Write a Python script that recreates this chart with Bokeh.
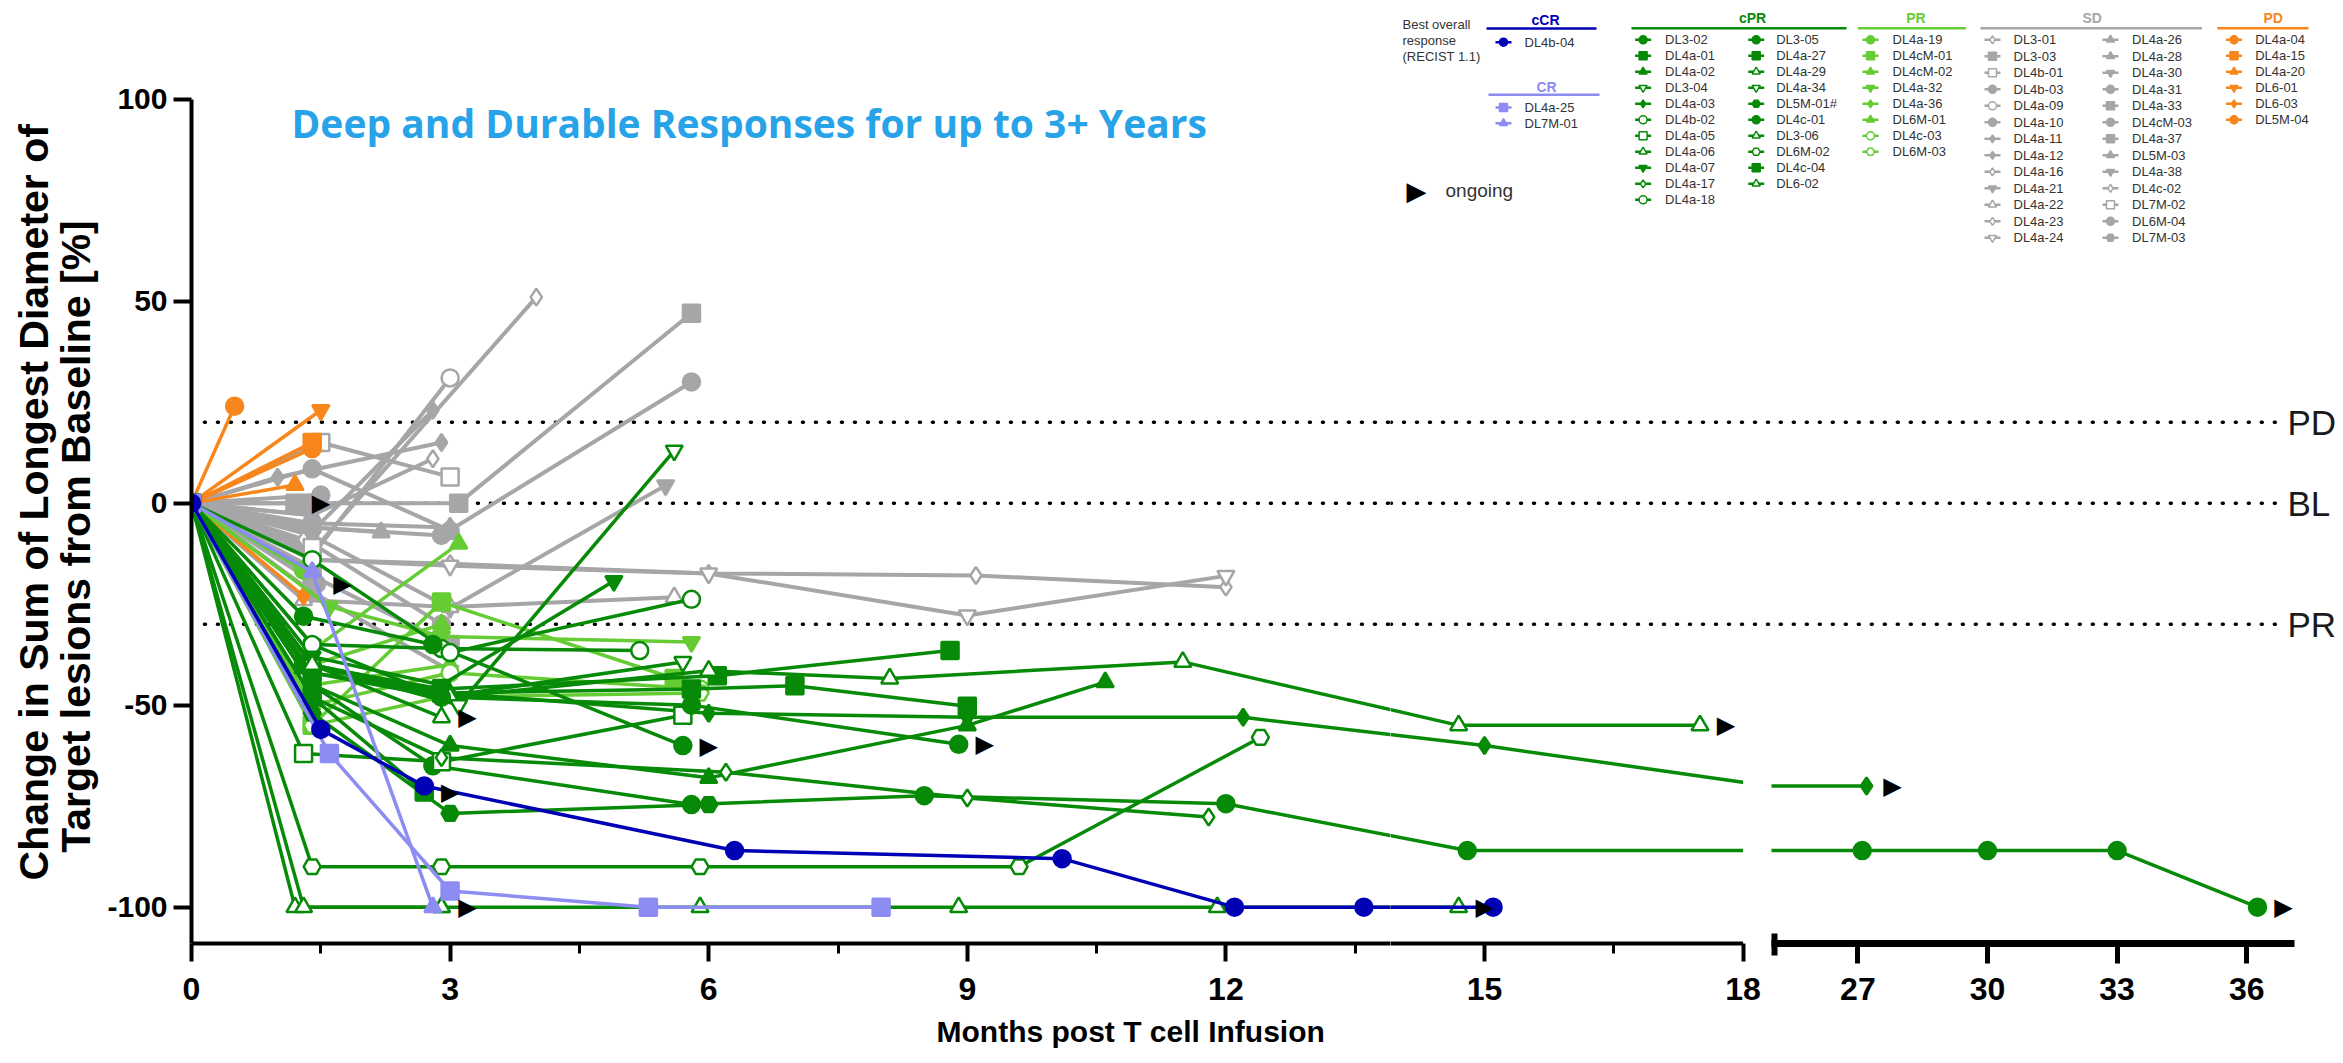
import numpy as np
from bokeh.plotting import figure
from bokeh.models import Range1d, FixedTicker, ColumnDataSource, Label, Title, Span, BoxAnnotation
from bokeh.layouts import row, column
from bokeh.embed import file_html
from bokeh.resources import INLINE
from bokeh.core.properties import value

# ---------------- categories / ticks ----------------
THRESH_VALUES = [20, 0, -30]
THRESH_LABELS = ["PD", "BL", "PR"]
X_TICKS_A = [0, 3, 6, 9, 12]
X_TICKS_B = [15, 18]
X_MINOR_A = [1.5, 4.5, 7.5, 10.5, 13.5]
X_MINOR_B = [16.5]
X_TICKS_LATE = [27, 30, 33, 36]
Y_TICKS = [-100, -50, 0, 50, 100]

# ---------------- data (months, % change) ----------------
CCR_NAMES = ["DL4b-04"]
CCR_MONTHS = [[0, 1.5, 2.7, 6.3, 10.1, 12.1, 13.6, 15.1]]
CCR_VALUES = [[0, -56, -70, -86, -88, -100, -100, -100]]
CCR_ONGOING = [False]

CR_NAMES = ["DL4a-25", "DL7M-01"]
CR_MONTHS = [[0, 1.6, 3.0, 5.3, 8.0], [0, 1.4, 2.8]]
CR_VALUES = [[0, -62, -96, -100, -100], [0, -17, -100]]
CR_ONGOING = [False, False]

CPR_NAMES = ["DL3-02", "DL4a-01", "DL4a-02", "DL3-04", "DL4a-03", "DL4b-02", "DL4a-05",
             "DL4a-06", "DL4a-07", "DL4a-17", "DL4a-18", "DL3-05", "DL4a-27", "DL4a-29",
             "DL4a-34", "DL5M-01#", "DL4c-01", "DL3-06", "DL6M-02", "DL4c-04", "DL6-02"]
CPR_MONTHS = [
    [0, 1.4, 2.8, 5.8, 8.5, 12.0, 14.8, 27.1, 30.0, 33.0, 36.25],
    [0, 1.4, 2.9, 5.8, 7.0, 9.0],
    [0, 1.4, 3.0, 6.0, 9.0, 10.6],
    [0, 1.4, 2.9, 5.7],
    [0, 1.4, 3.0, 6.0, 9.0, 12.2, 15.0, 18.3, 27.2],
    [0, 1.4, 2.9, 5.2],
    [0, 1.3, 2.9, 5.7],
    [0, 1.2, 2.9],
    [0, 1.4, 2.9, 4.9],
    [0, 1.4, 2.9, 6.2, 9.0, 11.8],
    [0, 1.4, 3.0, 5.8],
    [0, 1.3, 2.8, 5.7],
    [0, 1.3, 2.9, 6.1, 8.8],
    [0, 1.4, 3.0, 6.0, 8.1, 11.5, 14.7, 17.5],
    [0, 1.4, 3.1, 5.6],
    [0, 1.4, 3.0, 6.0],
    [0, 1.4, 2.9, 5.8, 8.9],
    [0, 1.4, 2.9],
    [0, 1.4, 2.9, 5.9, 9.6, 12.4],
    [0, 1.4, 2.7],
    [0, 1.3, 2.9, 5.9, 8.9, 11.9, 14.7],
]
CPR_VALUES = [
    [0, -45, -65, -74.6, -72.4, -74.4, -86, -86, -86, -86, -100],
    [0, -42, -47, -46, -45.2, -50.3],
    [0, -45, -60, -68, -55, -44.3],
    [0, -35, -48, -39.3],
    [0, -40, -47, -52, -53, -53, -60, -70, -70],
    [0, -35, -36, -36.5],
    [0, -62, -64, -52.5],
    [0, -100, -100],
    [0, -38, -45, -19.3],
    [0, -48, -63, -66.6, -73, -77.7],
    [0, -14, -37, -23.8],
    [0, -28, -35, -60],
    [0, -40, -46, -42.7, -36.5],
    [0, -40, -48, -41.5, -43.4, -39.3, -55, -55],
    [0, -40, -50, 13],
    [0, -52, -76.8, -74.6],
    [0, -42, -48, -50, -59.7],
    [0, -40, -53],
    [0, -90, -90, -90, -90, -58],
    [0, -48, -71.5],
    [0, -100, -100, -100, -100, -100, -100],
]
CPR_ONGOING = [True, False, False, False, True, False, False, True, False, False, False,
               True, False, True, False, False, True, True, False, True, True]

PR_NAMES = ["DL4a-19", "DL4cM-01", "DL4cM-02", "DL4a-32", "DL4a-36", "DL6M-01", "DL4c-03", "DL6M-03"]
PR_MONTHS = [[0, 1.3], [0, 1.4, 2.9, 5.6], [0, 1.4, 2.9], [0, 1.6, 2.9, 5.8],
             [0, 1.4, 3.0], [0, 1.3, 3.1], [0, 1.4, 3.0, 5.9], [0, 1.4, 2.9, 5.9]]
PR_VALUES = [[0, -16.6], [0, -55, -24.5, -43.4], [0, -40, -30], [0, -25.6, -33, -34.4],
             [0, -45, -40], [0, -38, -10], [0, -50, -42, -46], [0, -55, -48, -47]]
PR_ONGOING = [False] * 8

SD_NAMES = ["DL3-01", "DL3-03", "DL4b-01", "DL4b-03", "DL4a-09", "DL4a-10", "DL4a-11",
            "DL4a-12", "DL4a-16", "DL4a-21", "DL4a-22", "DL4a-23", "DL4a-24", "DL4a-26",
            "DL4a-28", "DL4a-30", "DL4a-31", "DL4a-33", "DL4cM-03", "DL4a-37", "DL5M-03",
            "DL4a-38", "DL4c-02", "DL7M-02", "DL6M-04", "DL7M-03"]
SD_MONTHS = [
    [0, 1.4, 4.0], [0, 1.4, 3.1, 5.8], [0, 1.5, 3.0], [0, 1.4, 2.9, 5.8], [0, 1.4, 3.0],
    [0, 1.4, 3.0], [0, 1.4, 2.8], [0, 1.0, 2.9], [0, 1.4, 2.8], [0, 1.4, 3.0, 5.5],
    [0, 1.3, 3.0, 5.6], [0, 1.4, 3.0, 6.0, 9.1, 12.0], [0, 1.4, 3.0, 6.0, 9.0, 12.0],
    [0, 1.4, 2.2], [0, 1.4, 3.0], [0, 1.4, 3.0], [0, 1.4, 2.9], [0, 1.4, 3.0],
    [0, 1.45], [0, 1.2], [0, 1.4], [0, 1.4], [0, 1.3], [0, 1.4], [0, 1.5], [0, 1.4],
]
SD_VALUES = [
    [0, -12, 51], [0, 0, 0, 47], [0, 15, 6.5], [0, -6, -8, 30], [0, -13, 31],
    [0, 8.5, -6.8], [0, -7, 23], [0, 6.4, 15], [0, -3, 11], [0, -8, -26, 4.4],
    [0, -24, -25.7, -23.3], [0, -14, -15, -17.4, -17.9, -20.8], [0, -14, -15.5, -17.4, -27.8, -18],
    [0, -6, -7.2], [0, -5, -6], [0, -22, -41.5], [0, -10, -30], [0, -18, -35],
    [0, -20], [0, 0], [0, -3], [0, -6], [0, -9], [0, -11], [0, 2], [0, -16],
]
SD_ONGOING = [False] * 18 + [True, True] + [False] * 6

PD_NAMES = ["DL4a-04", "DL4a-15", "DL4a-20", "DL6-01", "DL6-03", "DL5M-04"]
PD_MONTHS = [[0, 0.5], [0, 1.4], [0, 1.2], [0, 1.5], [0, 1.3], [0, 1.4]]
PD_VALUES = [[0, 24], [0, 15], [0, 4.5], [0, 23], [0, -23], [0, 13.5]]
PD_ONGOING = [False] * 6

# ---------------- styles ----------------
CCR_MARKERS, CCR_OPEN = ["circle"], [False]
CR_MARKERS, CR_OPEN = ["square", "triangle"], [False, False]
CPR_MARKERS = ["circle", "square", "triangle", "inverted_triangle", "diamond", "circle", "square",
               "triangle", "inverted_triangle", "diamond", "circle", "circle", "square", "triangle",
               "inverted_triangle", "hex", "circle", "triangle", "hex", "square", "triangle"]
CPR_OPEN = [False, False, False, True, False, True, True, True, False, True, True, False,
            False, True, True, False, False, True, True, False, True]
PR_MARKERS = ["circle", "square", "triangle", "inverted_triangle", "diamond", "triangle", "circle", "hex"]
PR_OPEN = [False, False, False, False, False, False, True, True]
SD_MARKERS = ["diamond", "square", "square", "circle", "circle", "circle", "diamond", "diamond",
              "diamond", "inverted_triangle", "triangle", "diamond", "inverted_triangle", "triangle",
              "triangle", "inverted_triangle", "circle", "square", "circle", "square", "triangle",
              "inverted_triangle", "diamond", "square", "circle", "hex"]
SD_OPEN = [True, False, True, False, True, False, False, False, True, False, True, True, True,
           False, False, False, False, False, False, False, False, False, True, True, False, False]
PD_MARKERS = ["circle", "square", "triangle", "inverted_triangle", "diamond", "circle"]
PD_OPEN = [False] * 6

COL = {"cCR": "#0000B4", "CR": "#8C8CF2", "cPR": "#078A07", "PR": "#66CC33",
       "SD": "#A6A6A8", "PD": "#F7861C"}

GROUPS = {
    "SD": (SD_NAMES, SD_MONTHS, SD_VALUES, SD_ONGOING, SD_MARKERS, SD_OPEN),
    "PD": (PD_NAMES, PD_MONTHS, PD_VALUES, PD_ONGOING, PD_MARKERS, PD_OPEN),
    "PR": (PR_NAMES, PR_MONTHS, PR_VALUES, PR_ONGOING, PR_MARKERS, PR_OPEN),
    "cPR": (CPR_NAMES, CPR_MONTHS, CPR_VALUES, CPR_ONGOING, CPR_MARKERS, CPR_OPEN),
    "CR": (CR_NAMES, CR_MONTHS, CR_VALUES, CR_ONGOING, CR_MARKERS, CR_OPEN),
    "cCR": (CCR_NAMES, CCR_MONTHS, CCR_VALUES, CCR_ONGOING, CCR_MARKERS, CCR_OPEN),
}
DRAW_ORDER = ["SD", "PD", "PR", "cPR", "CR", "cCR"]

# ---------------- layout geometry (page px) ----------------
X0 = 191.0        # month 0
PXM = 86.2        # px per month, early segment
XR0 = 1771.0      # month 25
LATE_START = 25.0
PXM_R = 43.2
PXU = 4.04
Y_AXIS_PX = 943.0
Y_MIN = -109.0
BOTTOM = 118
TITLE_W = 103
SPLIT_X = 1390
BREAK_X = 1771
RIGHT_X = 2340
LEG_H = 385
FONT = "Liberation Sans"


def m_early(sx):
    return (sx - X0) / PXM


def m_late(sx):
    return LATE_START + (sx - XR0) / PXM_R


def v_of(sy):
    return Y_MIN + (Y_AXIS_PX - sy) / PXU


def base_fig(xr, yr, fw, fh, left=0, yaxis=False):
    p = figure(title=None, x_range=xr, y_range=yr, frame_width=fw, frame_height=fh,
               output_backend="svg", toolbar_location=None,
               x_axis_location="below", y_axis_location="left" if yaxis else None,
               min_border_left=left, min_border_right=0, min_border_top=0,
               min_border_bottom=BOTTOM)
    p.grid.visible = False
    p.outline_line_color = None
    p.background_fill_color = "white"
    p.border_fill_color = "white"
    return p


def style_xaxis(ax, ticks, minor, lw, tw, tout, standoff):
    ax.ticker = FixedTicker(ticks=ticks, minor_ticks=minor)
    ax.axis_line_width = lw
    ax.axis_line_color = "black"
    ax.major_tick_line_width = tw
    ax.major_tick_line_color = "black"
    ax.major_tick_out = tout
    ax.major_tick_in = 0
    ax.minor_tick_line_width = 3
    ax.minor_tick_line_color = "black"
    ax.minor_tick_out = 10
    ax.minor_tick_in = 0
    ax.major_label_text_font = FONT
    ax.major_label_text_font_style = "bold"
    ax.major_label_text_font_size = "32px"
    ax.major_label_text_color = "black"
    ax.major_label_standoff = standoff


def draw_thresholds(p, x0, x1):
    n = len(THRESH_VALUES)
    p.segment(x0=[x0] * n, x1=[x1] * n, y0=THRESH_VALUES, y1=THRESH_VALUES,
              line_color="black", line_width=3.5, line_dash="1 12", line_cap="round")


def draw_data(p, xmin, xmax):
    for g in DRAW_ORDER:
        names, months, values, ongoing, markers, opens = GROUPS[g]
        c = COL[g]
        lw = 4 if g == "SD" else 3.5
        p.multi_line(xs=months, ys=values, line_color=c, line_width=lw)
        xs, ys, mk, fc = [], [], [], []
        for t, v, m, o in zip(months, values, markers, opens):
            xs += list(t)
            ys += list(v)
            mk += [m] * len(t)
            fc += ["white" if o else c] * len(t)
        src = ColumnDataSource(dict(x=xs, y=ys, mk=mk, fc=fc))
        p.scatter(x="x", y="y", marker="mk", fill_color="fc", line_color=c,
                  size=17, line_width=2.5, source=src)
    ax, ay = [], []
    for g in DRAW_ORDER:
        names, months, values, ongoing, markers, opens = GROUPS[g]
        for t, v, o in zip(months, values, ongoing):
            if o and xmin <= t[-1] <= xmax:
                ax.append(t[-1])
                ay.append(v[-1])
    if ax:
        p.text(x=ax, y=ay, text=["\u25B6"] * len(ax), x_offset=26, text_align="center",
               text_baseline="middle", text_font=value("DejaVu Sans"), text_font_size="24px",
               text_color="black")


y_left = Range1d(Y_MIN, v_of(0))
y_right = Range1d(Y_MIN, v_of(LEG_H))

# ---------------- y axis title panel ----------------
pT = figure(title=None, x_range=Range1d(0, TITLE_W), y_range=Range1d(Y_AXIS_PX + BOTTOM, 0),
            width=TITLE_W, height=int(Y_AXIS_PX + BOTTOM), output_backend="svg",
            toolbar_location=None, x_axis_location=None, y_axis_location=None, min_border=0)
pT.grid.visible = False
pT.outline_line_color = None
pT.text(x=[33, 75], y=[990, 959],
        text=["Change in Sum of Longest Diameter of", "Target lesions from Baseline [%]"],
        angle=np.pi / 2, text_align="left", text_baseline="middle", text_font=value(FONT),
        text_font_style="bold", text_font_size="41px", text_color="black")

# ---------------- left (0 .. ~13.9 months) ----------------
pL = base_fig(Range1d(0, m_early(SPLIT_X)), y_left, int(SPLIT_X - X0), int(Y_AXIS_PX),
              left=int(X0 - TITLE_W), yaxis=True)
draw_thresholds(pL, 0.15, m_early(SPLIT_X + 10))
draw_data(pL, 0, m_early(SPLIT_X))
style_xaxis(pL.xaxis[0], X_TICKS_A, X_MINOR_A, 4, 4, 18, 16)
ya = pL.yaxis[0]
ya.bounds = (Y_MIN, 100)
ya.ticker = FixedTicker(ticks=Y_TICKS)
ya.major_label_overrides = {t: str(t) for t in Y_TICKS}
ya.axis_line_width = 4
ya.axis_line_color = "black"
ya.major_tick_line_width = 4
ya.major_tick_line_color = "black"
ya.major_tick_out = 18
ya.major_tick_in = 0
ya.minor_tick_line_color = None
ya.major_label_text_font = FONT
ya.major_label_text_font_style = "bold"
ya.major_label_text_font_size = "30px"
ya.major_label_text_color = "black"
ya.major_label_standoff = 6

pL.add_layout(Label(x=m_early(291), y=v_of(122), text="Deep and Durable Responses for up to 3+ Years",
                    text_font="Open Sans", text_font_style="bold", text_font_size="39px",
                    text_color="#29A3E8", text_align="left", text_baseline="middle"))
pL.add_layout(Title(text="Months post T cell Infusion", align="left", offset=745, standoff=20,
                    text_font=FONT, text_font_style="bold", text_font_size="30px",
                    text_color="black"), "below")

# ---------------- mid (~13.9 .. 18 months, plus the break) ----------------
pM = base_fig(Range1d(m_early(SPLIT_X), m_early(BREAK_X)), y_right, BREAK_X - SPLIT_X,
              int(Y_AXIS_PX - LEG_H))
draw_data(pM, m_early(SPLIT_X), 18)
pM.add_layout(BoxAnnotation(left=18, fill_color="white", fill_alpha=1.0, line_alpha=0))
for v in THRESH_VALUES:
    pM.add_layout(Span(location=v, dimension="width", line_color="black", line_width=3.5,
                       line_dash="1 12", line_cap="round"))
style_xaxis(pM.xaxis[0], X_TICKS_B, X_MINOR_B, 4, 4, 18, 16)
pM.xaxis[0].bounds = (10, 18)

# ---------------- right (25 .. 37 months) ----------------
pR = base_fig(Range1d(LATE_START, m_late(RIGHT_X)), y_right, RIGHT_X - BREAK_X,
              int(Y_AXIS_PX - LEG_H))
draw_thresholds(pR, 24, m_late(2282))
draw_data(pR, LATE_START, m_late(RIGHT_X))
style_xaxis(pR.xaxis[0], X_TICKS_LATE, [m_late(BREAK_X + 3)], 7, 5, 20, 14)
pR.xaxis[0].minor_tick_in = 10
pR.xaxis[0].minor_tick_out = 12
pR.xaxis[0].minor_tick_line_width = 6
pR.xaxis[0].bounds = (LATE_START, m_late(2294))
pR.text(x=[m_late(2287)] * 3, y=THRESH_VALUES, text=THRESH_LABELS, text_align="left",
        text_baseline="middle", text_font=value(FONT), text_font_size="35px", text_color="#1a1a1a")

# ---------------- legend panel ----------------
LX0, LY0 = SPLIT_X, 0
pLeg = figure(title=None, x_range=Range1d(0, RIGHT_X - SPLIT_X), y_range=Range1d(LEG_H, 0),
              frame_width=RIGHT_X - SPLIT_X, frame_height=LEG_H, output_backend="svg",
              toolbar_location=None, x_axis_location=None, y_axis_location=None, min_border=0)
pLeg.grid.visible = False
pLeg.outline_line_color = None

LEG_SPEC = [
    ("cCR", 1545, 19, 1486, 1596, 28, [(1503, 1524, 0, 1)], 41.7, 16),
    ("CR", 1546, 86, 1488, 1599, 94.3, [(1503, 1524, 0, 2)], 107, 15.7),
    ("cPR", 1752, 17, 1631, 1846, 27.7, [(1642.6, 1664.6, 0, 11), (1755.7, 1775.7, 11, 21)], 39.3, 16),
    ("PR", 1915.4, 17, 1857.5, 1965.3, 27.7, [(1870, 1892, 0, 8)], 39.3, 16),
    ("SD", 2091.7, 17, 1980, 2201.5, 27.7, [(1992, 2013, 0, 13), (2110, 2131.6, 13, 26)], 39.3, 16.5),
    ("PD", 2272.7, 17, 2216.8, 2308, 27.7, [(2233.5, 2254.7, 0, 6)], 39.3, 16),
]
hx, hy, ht, hc = [], [], [], []
sx0, sx1, sy, sc = [], [], [], []
tx, ty, tt = [], [], []
mx, my, mm, mf, mc = [], [], [], [], []
for g, hcx, hcy, l0, l1, lyy, cols, r0, step in LEG_SPEC:
    names, months, values, ongoing, markers, opens = GROUPS[g]
    c = COL[g]
    hx.append(hcx - LX0); hy.append(hcy - LY0); ht.append(g); hc.append(c)
    sx0.append(l0 - LX0); sx1.append(l1 - LX0); sy.append(lyy - LY0); sc.append(c)
    for mxx, txx, a, b in cols:
        for k, i in enumerate(range(a, b)):
            yy = r0 + k * step - LY0
            sx0.append(mxx - 8 - LX0); sx1.append(mxx + 8 - LX0); sy.append(yy); sc.append(c)
            mx.append(mxx - LX0); my.append(yy); mm.append(markers[i])
            mf.append("white" if opens[i] else c); mc.append(c)
            tx.append(txx - LX0); ty.append(yy); tt.append(names[i])

pLeg.segment(x0=sx0, x1=sx1, y0=sy, y1=sy, line_color=sc, line_width=2.5)
pLeg.scatter(x=mx, y=my, marker=mm, fill_color=mf, line_color=mc, size=8, line_width=1.5)
pLeg.text(x=tx, y=ty, text=tt, text_font=value(FONT), text_font_size="13px",
          text_baseline="middle", text_align="left", text_color="#333333")
pLeg.text(x=hx, y=hy, text=ht, text_color=hc, text_font=value(FONT), text_font_style="bold",
          text_font_size="14px", text_baseline="middle", text_align="center")
pLeg.text(x=[1402 - LX0] * 3, y=[24, 40, 56], text=["Best overall", "response", "(RECIST 1.1)"],
          text_font=value(FONT), text_font_size="13px", text_baseline="middle",
          text_align="left", text_color="#333333")
pLeg.text(x=[1416 - LX0], y=[190], text=["\u25B6"], text_font=value("DejaVu Sans"),
          text_font_size="26px", text_baseline="middle", text_align="center", text_color="black")
pLeg.text(x=[1445 - LX0], y=[190], text=["ongoing"], text_font=value(FONT), text_font_size="19px",
          text_baseline="middle", text_align="left", text_color="#333333")

layout = row(pT, pL, column(pLeg, row(pM, pR)))
open("out.html", "w").write(file_html(layout, INLINE, title="Tumour response"))
